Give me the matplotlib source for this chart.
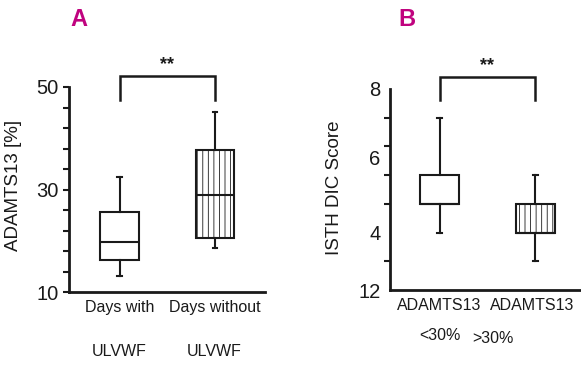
import numpy as np
import matplotlib
matplotlib.use("Agg")
import matplotlib.pyplot as plt

# panel A: ADAMTS13 [%]
a_labels_top = ["Days with", "Days without"]
a_labels_bot = ["ULVWF", "ULVWF"]
a_whislo = [13.1, 18.5]
a_q1 = [16.2, 20.5]
a_med = [19.8, 29.0]
a_q3 = [25.6, 37.8]
a_whishi = [32.4, 45.1]

# panel B: ISTH DIC score
b_labels_top = ["ADAMTS13", "ADAMTS13"]
b_labels_bot = ["<30%", ">30%"]
b_whislo = [3, 2]
b_q1 = [4, 3]
b_med = [4, 3]
b_q3 = [5, 4]
b_whishi = [7, 5]

a_ticks = np.arange(10, 51, 4)
a_ticklabels = ["10", "", "", "", "", "30", "", "", "", "", "50"]
b_minor = np.arange(1, 9)
b_ticks = [8, 5.63, 3, 1]
b_ticklabels = ["8", "6", "4", "12"]

plt.rcParams['font.family'] = ['Liberation Sans', 'DejaVu Sans']
plt.rcParams['hatch.linewidth'] = 0.6
plt.rcParams['hatch.color'] = '#555555'

ink = '#1a1a1a'
magenta = '#c0037f'
fig = plt.figure(figsize=(5.81, 3.65), dpi=100)
axA = fig.add_axes([69/581, 73/365, 196/581, 205/365])
axB = fig.add_axes([390/581, 75/365, 191/581, 201/365])


def make_stats(lo, q1, med, q3, hi):
    return [dict(whislo=lo[i], q1=q1[i], med=med[i], q3=q3[i], whishi=hi[i], fliers=[])
            for i in range(len(lo))]


def draw(ax, stats, width):
    bp = ax.bxp(stats, positions=[1, 2], widths=width, patch_artist=True,
                showfliers=False, capwidths=0.05,
                boxprops=dict(linewidth=1.5, edgecolor=ink),
                medianprops=dict(color=ink, linewidth=1.5),
                whiskerprops=dict(color=ink, linewidth=1.5),
                capprops=dict(color=ink, linewidth=1.5))
    bp['boxes'][0].set_facecolor('white')
    bp['boxes'][1].set_facecolor('white')
    bp['boxes'][1].set_hatch('|||')
    for s in ['top', 'right']:
        ax.spines[s].set_visible(False)
    for s in ['left', 'bottom']:
        ax.spines[s].set_linewidth(2)
        ax.spines[s].set_color(ink)
    ax.tick_params(axis='x', length=0, pad=6, labelsize=11.5, colors=ink)
    ax.tick_params(axis='y', which='both', width=1.5, length=4, labelsize=14.5, colors=ink)


def bracket(ax, y_top, y_leg, y_star):
    ax.plot([1, 1, 2, 2], [y_leg, y_top, y_top, y_leg], color=ink, lw=1.8,
            clip_on=False, solid_joinstyle='miter')
    ax.text(1.5, y_star, "**", ha='center', va='center', fontsize=13,
            fontweight='bold', color=ink, clip_on=False)


# A
draw(axA, make_stats(a_whislo, a_q1, a_med, a_q3, a_whishi), 0.4)
axA.set_xlim(0.471, 2.524)
axA.set_ylim(10, 50)
axA.set_yticks(a_ticks)
axA.set_yticklabels(a_ticklabels)
axA.set_xticks([1, 2])
axA.set_xticklabels(a_labels_top)
for i, t in enumerate(a_labels_bot):
    axA.text(1 + i * 0.99, -0.29, t, transform=axA.get_xaxis_transform(),
             ha='center', va='center', fontsize=11.5, color=ink)
axA.set_ylabel("ADAMTS13 [%]", fontsize=13.5, color=ink)
axA.yaxis.set_label_coords(-0.24, 0.52)
bracket(axA, 52.1, 47.4, 54.4)

# B
draw(axB, make_stats(b_whislo, b_q1, b_med, b_q3, b_whishi), 0.41)
axB.set_xlim(0.482, 2.48)
axB.set_ylim(1, 8)
axB.set_yticks(b_minor, minor=True)
axB.set_yticks(b_ticks)
axB.set_yticklabels(b_ticklabels)
axB.tick_params(axis='y', which='major', length=0, pad=7)
axB.set_xticks([1, 1.97])
axB.set_xticklabels(b_labels_top)
axB.text(1, -0.225, b_labels_bot[0], transform=axB.get_xaxis_transform(),
         ha='center', va='center', fontsize=11.5, color=ink)
axB.text(1.56, -0.24, b_labels_bot[1], transform=axB.get_xaxis_transform(),
         ha='center', va='center', fontsize=11.5, color=ink)
axB.set_ylabel("ISTH DIC Score", fontsize=13.5, color=ink)
axB.yaxis.set_label_coords(-0.246, 0.51)
bracket(axB, 8.43, 7.62, 8.82)

fig.text(79/581, 1 - 19/365, "A", ha='center', va='center', fontsize=17,
         fontweight='bold', color=magenta)
fig.text(407/581, 1 - 19/365, "B", ha='center', va='center', fontsize=17,
         fontweight='bold', color=magenta)

fig.savefig("out.png", dpi=100)
